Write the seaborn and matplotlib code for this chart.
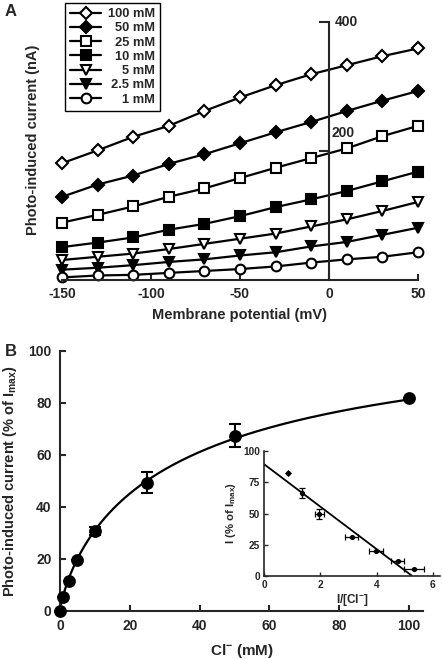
import numpy as np
import pandas as pd
import seaborn as sns
import matplotlib.pyplot as plt

# ---- panel A: I-V curves at different Cl- concentrations
voltage = [-150, -130, -110, -90, -70, -50, -30, -10, 10, 30, 50]
cur_100 = [181, 201, 222, 239, 262, 283, 302, 319, 333, 347, 359]
cur_50 = [129, 148, 162, 180, 195, 212, 229, 245, 262, 278, 293]
cur_25 = [89, 101, 114, 129, 142, 158, 174, 189, 204, 223, 239]
cur_10 = [51, 58, 66, 78, 87, 99, 113, 125, 138, 153, 168]
cur_5 = [31, 36, 41, 48, 56, 64, 72, 83, 94, 107, 121]
cur_2_5 = [16, 19, 23, 28, 32, 38, 43, 52, 59, 70, 81]
cur_1 = [4, 7, 8, 11, 14, 17, 21, 27, 32, 36, 43]
conc_labels = ['100 mM', '50 mM', '25 mM', '10 mM', '5 mM', '2.5 mM', '1 mM']

# ---- panel B: dose response
cl_conc = [0, 1, 2.5, 5, 10, 25, 50, 100]
rel_current = [0, 5.2, 11.7, 19.6, 30.8, 49.3, 67.3, 81.8]
rel_err = [0, 0, 0, 0, 1.6, 4.1, 4.4, 0]
# Hill fit parameters of the drawn curve
imax, k_half, hill_n = 117.0, 35.8, 0.8

# ---- inset: Eadie-Hofstee plot
inset_x = [0.83, 1.33, 1.96, 3.11, 3.98, 4.75, 5.33]
inset_y = [82.5, 66.5, 49.5, 31.5, 20, 12, 5.3]
inset_xerr = [0, 0, 0.16, 0.22, 0.26, 0.24, 0.37]
inset_yerr = [0, 4, 4, 0, 0, 0, 0]
fit_x = [0, 5.27]
fit_y = [89.3, 0]

sns.set_style('ticks')
plt.rcParams['font.family'] = ['Liberation Sans', 'DejaVu Sans']
plt.rcParams['font.weight'] = 'bold'
plt.rcParams['mathtext.fontset'] = 'custom'
plt.rcParams['mathtext.rm'] = 'Liberation Sans:bold'
plt.rcParams['mathtext.bf'] = 'Liberation Sans:bold'
plt.rcParams['mathtext.it'] = 'Liberation Sans:bold'
plt.rcParams['mathtext.default'] = 'bf'
plt.rcParams['axes.linewidth'] = 1.5
plt.rcParams['axes.unicode_minus'] = False

W, H = 442, 659
fig = plt.figure(figsize=(W / 100, H / 100), dpi=100)


def box(l, t, r, b):
    return [l / W, 1 - b / H, (r - l) / W, (b - t) / H]


# ================= panel A
axA = fig.add_axes(box(62, 22, 418, 280))
series = [cur_100, cur_50, cur_25, cur_10, cur_5, cur_2_5, cur_1]
markers = ['D', 'D', 's', 's', 'v', 'v', 'o']
faces = ['white', 'black', 'white', 'black', 'white', 'black', 'white']
sizes = [6.2, 6.2, 7.3, 7.3, 7.2, 7.2, 7]
handles = []
for vals, lab, m, fc, ms in zip(series, conc_labels, markers, faces, sizes):
    df = pd.DataFrame({'V': voltage, 'I': vals})
    sns.lineplot(data=df, x='V', y='I', ax=axA, color='black', lw=1.6,
                 marker=m, markersize=ms, markerfacecolor=fc,
                 markeredgecolor='black', markeredgewidth=1.5,
                 clip_on=False, legend=False)
    ln = axA.get_lines()[-1]
    ln.set_label(lab)
    handles.append(ln)

axA.set_xlim(-150, 50)
axA.set_ylim(0, 400)
axA.spines['top'].set_visible(False)
axA.spines['left'].set_visible(False)
axA.spines['right'].set_position(('data', 0))
axA.yaxis.tick_right()
axA.set_yticks([200, 400])
axA.tick_params(axis='y', direction='in', length=7, width=1.5,
                labelright=False)
axA.set_xticks([-150, -100, -50, 0, 50])
axA.tick_params(axis='x', direction='in', length=4, width=1.5,
                labelsize=10, pad=5)
axA.annotate('400', xy=(0, 400), xytext=(4, 0), textcoords='offset points',
             ha='left', va='center', fontsize=10, fontweight='bold')
axA.annotate('200', xy=(0, 200), xytext=(2, 13), textcoords='offset points',
             ha='left', va='center', fontsize=10, fontweight='bold')
axA.set_xlabel('Membrane potential (mV)', fontsize=10.5, fontweight='bold',
               labelpad=5)
axA.set_ylabel('')
fig.text(33 / W, 1 - 140 / H, 'Photo-induced current (nA)', rotation=90,
         ha='center', va='center', fontsize=10.5, fontweight='bold')

leg = axA.legend(handles=handles, loc='upper left',
                 bbox_to_anchor=(65 / W, 1 - 3 / H),
                 bbox_transform=fig.transFigure, borderaxespad=0,
                 fancybox=False, edgecolor='black', framealpha=1,
                 fontsize=9.3, labelspacing=0.17, handlelength=2.4,
                 handletextpad=0.5, borderpad=0.4)
leg.get_frame().set_linewidth(1.0)

# right-align the legend labels
fig.canvas.draw()
renderer = fig.canvas.get_renderer()
widths = [t.get_window_extent(renderer).width for t in leg.get_texts()]
for t, w in zip(leg.get_texts(), widths):
    t.set_position((max(widths) - w, 0))

fig.text(5 / W, 1 - 12 / H, 'A', ha='left', va='center', fontsize=12,
         fontweight='bold')

# ================= panel B
axB = fig.add_axes(box(60, 350.7, 423, 611))
curve_x = np.linspace(0.3, 100, 300)
curve_y = imax * curve_x ** hill_n / (k_half ** hill_n + curve_x ** hill_n)
sns.lineplot(x=curve_x, y=curve_y, ax=axB, color='black', lw=1.6)
axB.errorbar(cl_conc, rel_current, yerr=rel_err, fmt='none', ecolor='black',
             elinewidth=1.5, capsize=4, capthick=1.5, clip_on=False)
sns.scatterplot(x=cl_conc, y=rel_current, ax=axB, color='black', s=85,
                edgecolor='black', linewidth=0, clip_on=False, zorder=5)
axB.set_xlim(0, 104)
axB.set_ylim(0, 100)
sns.despine(ax=axB)
axB.set_xticks([0, 20, 40, 60, 80, 100])
axB.set_yticks([0, 20, 40, 60, 80, 100])
axB.tick_params(direction='in', length=4, width=1.5, labelsize=10, pad=6)
axB.set_xlabel('Cl$^{-}$ (mM)', fontsize=11, fontweight='bold', labelpad=6)
axB.set_ylabel('Photo-induced current (% of I$_{max}$)', fontsize=10.5,
               fontweight='bold', labelpad=7)
fig.text(5 / W, 1 - 352 / H, 'B', ha='left', va='center', fontsize=12,
         fontweight='bold')

# ================= inset
axI = fig.add_axes(box(264.3, 451, 440, 576))
sns.lineplot(x=fit_x, y=fit_y, ax=axI, color='black', lw=1.3)
axI.errorbar(inset_x, inset_y, xerr=inset_xerr, yerr=inset_yerr, fmt='none',
             ecolor='black', elinewidth=0.9, capsize=2, capthick=0.9)
sns.scatterplot(x=inset_x, y=inset_y, ax=axI, color='black', s=14,
                linewidth=0, zorder=5)
axI.set_xlim(0, 6.26)
axI.set_ylim(0, 100)
axI.patch.set_alpha(0)
sns.despine(ax=axI)
for s in ['left', 'bottom']:
    axI.spines[s].set_linewidth(1.2)
axI.set_xticks([0, 2, 4, 6])
axI.set_yticks([0, 25, 50, 75, 100])
axI.tick_params(direction='in', length=3, width=1, labelsize=7.3, pad=3)
axI.set_xlabel('I/[Cl$^{-}$]', fontsize=8.5, fontweight='bold', labelpad=1)
axI.set_ylabel('I (% of I$_{max}$)', fontsize=8.2, fontweight='bold',
               labelpad=4)

fig.savefig('out.png', dpi=100)
